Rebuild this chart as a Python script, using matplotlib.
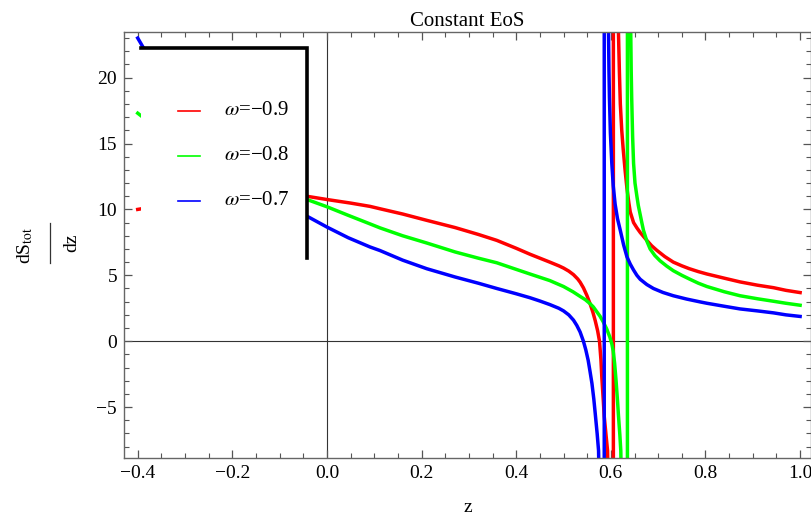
import matplotlib
matplotlib.use('Agg')
import matplotlib.pyplot as plt
from matplotlib.patches import Rectangle
from matplotlib.lines import Line2D
from matplotlib.ticker import MultipleLocator, FuncFormatter

plt.rcParams['font.family'] = ['Liberation Serif', 'DejaVu Serif']
plt.rcParams['mathtext.fontset'] = 'stix'

# curves (z, dS_tot/dz); the +-300 pairs are the poles
z_09 = [-0.40, -0.30, -0.20, -0.10, -0.043, 0.0, 0.05, 0.091, 0.112, 0.16, 0.211,
        0.271, 0.32, 0.359, 0.40, 0.429, 0.45, 0.471, 0.49, 0.50, 0.511, 0.521,
        0.530, 0.535, 0.542, 0.549, 0.556, 0.562, 0.567, 0.572, 0.576, 0.579,
        0.581, 0.584, 0.586, 0.590, 0.593, 0.599, 0.6053,
        0.6053, 0.612, 0.616, 0.618, 0.620, 0.623, 0.626, 0.630, 0.634, 0.638,
        0.641, 0.648, 0.655, 0.662, 0.669, 0.676, 0.686, 0.697, 0.714, 0.732,
        0.75, 0.766, 0.785, 0.803, 0.84, 0.873, 0.91, 0.944, 0.97, 1.0]
s_09 = [10.0, 10.6, 11.0, 11.15, 11.0, 10.75, 10.48, 10.23, 10.05, 9.65, 9.17,
        8.62, 8.1, 7.65, 7.05, 6.6, 6.3, 6.0, 5.72, 5.55, 5.32, 5.05,
        4.72, 4.48, 4.05, 3.5, 2.85, 2.2, 1.55, 0.8, 0.0, -1.4,
        -2.8, -4.5, -5.7, -7.2, -8.3, -20, -300,
        300, 40, 23.5, 20.5, 18.0, 16.0, 14.6, 13.0, 11.6, 10.5,
        9.8, 9.0, 8.6, 8.25, 7.95, 7.65, 7.25, 6.9, 6.42, 6.0,
        5.72, 5.5, 5.28, 5.1, 4.78, 4.5, 4.25, 4.06, 3.86, 3.69]

z_08 = [-0.40, -0.30, -0.20, -0.10, -0.043, 0.0, 0.045, 0.091, 0.112, 0.16, 0.211,
        0.271, 0.32, 0.359, 0.40, 0.429, 0.45, 0.471, 0.50, 0.52, 0.535, 0.546,
        0.556, 0.563, 0.570, 0.577, 0.584, 0.591, 0.598, 0.602, 0.605, 0.608,
        0.611, 0.614, 0.616, 0.619, 0.621, 0.627, 0.635,
        0.635, 0.640, 0.642, 0.643, 0.644, 0.646, 0.648, 0.651, 0.655, 0.658,
        0.662, 0.666, 0.669, 0.676, 0.683, 0.693, 0.704, 0.718, 0.732, 0.75,
        0.766, 0.785, 0.803, 0.84, 0.873, 0.91, 0.944, 0.97, 1.0]
s_08 = [17.3, 14.5, 12.6, 11.4, 10.76, 10.2, 9.55, 8.9, 8.6, 8.0, 7.45,
        6.77, 6.3, 5.95, 5.45, 5.1, 4.85, 4.6, 4.15, 3.75, 3.4, 3.15,
        2.85, 2.6, 2.25, 1.9, 1.46, 0.95, 0.3, -0.2, -0.75, -1.7,
        -3.0, -4.5, -5.6, -7.1, -8.3, -20, -300,
        300, 40, 23.5, 20.5, 18.5, 15.5, 13.5, 12.0, 11.0, 10.3,
        9.6, 8.9, 8.4, 7.6, 7.0, 6.5, 6.1, 5.7, 5.35, 5.0,
        4.72, 4.4, 4.15, 3.75, 3.45, 3.22, 3.03, 2.88, 2.73]

z_07 = [-0.40, -0.387, -0.30, -0.20, -0.10, -0.043, 0.0, 0.045, 0.091, 0.112, 0.16,
        0.211, 0.271, 0.32, 0.359, 0.40, 0.429, 0.45, 0.471, 0.49, 0.50, 0.511,
        0.521, 0.528, 0.535, 0.542, 0.547, 0.552, 0.556, 0.560, 0.564, 0.567,
        0.571, 0.574, 0.580, 0.586,
        0.586, 0.593, 0.595, 0.596, 0.597, 0.599, 0.602, 0.605, 0.609, 0.614,
        0.620, 0.627, 0.634, 0.641, 0.648, 0.655, 0.662, 0.676, 0.690, 0.71,
        0.732, 0.76, 0.789, 0.803, 0.84, 0.873, 0.91, 0.944, 0.97, 1.0]
s_07 = [23.0, 22.2, 17.0, 13.6, 11.0, 9.5, 8.66, 7.85, 7.15, 6.88, 6.15,
        5.5, 4.87, 4.4, 4.0, 3.6, 3.3, 3.05, 2.78, 2.5, 2.3, 2.0,
        1.6, 1.2, 0.7, 0.0, -0.65, -1.44, -2.3, -3.2, -4.4, -5.5,
        -7.0, -8.3, -20, -300,
        300, 40, 23.5, 20.5, 18.5, 15.8, 13.5, 11.8, 10.4, 9.3,
        8.4, 7.3, 6.4, 5.85, 5.4, 5.0, 4.7, 4.3, 4.0, 3.7,
        3.45, 3.2, 2.98, 2.88, 2.65, 2.45, 2.3, 2.15, 2.0, 1.88]

labels = [r'$\omega$=−0.9', r'$\omega$=−0.8', r'$\omega$=−0.7']
colors = ['#ff0000', '#00ff00', '#0000ff']
series = [(z_09, s_09), (z_08, s_08), (z_07, s_07)]

W, H = 812, 521
fig = plt.figure(figsize=(W/100, H/100), dpi=100)
ax = fig.add_axes([124/W, 1 - 458/H, 687/W, 426/H])

for (z, s), c in zip(series, colors):
    ax.plot(z, s, color=c, lw=2.5, zorder=2, solid_joinstyle='round')

ax.axhline(0, color='#333333', lw=0.8, zorder=1)
ax.axvline(0, color='#333333', lw=0.8, zorder=1)

ax.set_xlim(-0.429, 1.023)
ax.set_ylim(-8.86, 23.46)
ax.xaxis.set_major_locator(MultipleLocator(0.2))
ax.xaxis.set_minor_locator(MultipleLocator(0.05))
ax.yaxis.set_major_locator(MultipleLocator(5))
ax.yaxis.set_minor_locator(MultipleLocator(1))
ax.xaxis.set_major_formatter(FuncFormatter(lambda v, p: f'{v:.1f}'.replace('-', '−')))
ax.tick_params(which='both', direction='in', top=True, right=True, color='#555555',
               labelsize=14, pad=5)
ax.tick_params(which='major', length=6, width=0.9)
ax.tick_params(which='minor', length=3.6, width=0.8)
for sp in ax.spines.values():
    sp.set_color('#666666')
    sp.set_linewidth(1.0)

ax.set_title('Constant EoS', fontsize=15, pad=4)
ax.set_xlabel('z', fontsize=14, labelpad=12)

# y label as a Mathematica-style fraction, turned on its side
fig.text(25/W, 1 - 245/H, r'dS$_{\mathrm{tot}}$', rotation=90, ha='center',
         va='center', fontsize=14)
fig.text(72/W, 1 - 243/H, 'dz', rotation=90, ha='center', va='center', fontsize=14)
fig.add_artist(Line2D([50/W, 50/W], [1 - 223/H, 1 - 263/H], color='#333333', lw=0.9))

# legend box (white, black top and right edges)
bx0, bx1 = (141 - 124)/687, (306.5 - 124)/687
by0, by1 = (458 - 258)/426, (458 - 48)/426
ax.add_patch(Rectangle((bx0, by0), bx1 - bx0, by1 - by0, transform=ax.transAxes,
                       facecolor='white', edgecolor='none', zorder=3))
ax.plot([bx0, bx1, bx1], [by1, by1, by0], transform=ax.transAxes, color='black',
        lw=2.6, zorder=4, solid_joinstyle='miter', clip_on=False)
for i, (lab, c) in enumerate(zip(labels, colors)):
    y = (458 - 111 - 45*i)/426
    ax.plot([(178 - 124)/687, (200 - 124)/687], [y, y], transform=ax.transAxes,
            color=c, lw=1.2, zorder=5)
    ax.text((224 - 124)/687, y, lab, transform=ax.transAxes, fontsize=15,
            va='center', ha='left', zorder=5)

fig.savefig('out.png', dpi=100)
